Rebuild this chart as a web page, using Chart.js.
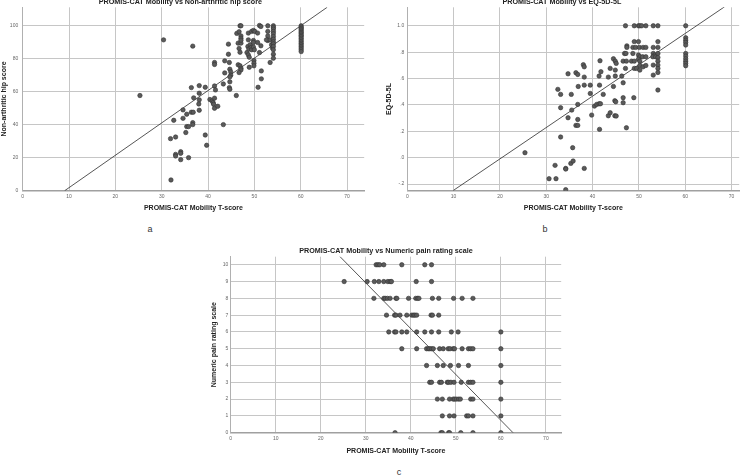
<!DOCTYPE html>
<html lang="en">
<head>
<meta charset="UTF-8" />
<title>PROMIS-CAT Mobility correlations</title>
<script src="https://cdn.jsdelivr.net/npm/chart.js"></script>
<style>
  html, body { margin: 0; padding: 0; background: #fff; width: 753px; height: 475px; overflow: hidden; position: relative; font-family: "Liberation Sans", Arial, sans-serif; }
  .panel { position: absolute; }
  .tag { position: absolute; font-size: 9px; color: #333; transform: translate(-50%, -50%); }
</style>
</head>
<body>

<div class="panel" style="left:-6px;top:-2px;width:373px;height:215px"><canvas id="hipChart"></canvas></div>
<div class="panel" style="left:382px;top:-2px;width:360px;height:215px"><canvas id="eqChart"></canvas></div>
<div class="panel" style="left:208px;top:247px;width:356px;height:208px"><canvas id="painChart"></canvas></div>
<div class="tag" style="left:150px;top:229px">a</div>
<div class="tag" style="left:545px;top:229px">b</div>
<div class="tag" style="left:399px;top:472px">c</div>

<script>
const FONT = '"Liberation Sans", Arial, sans-serif';
const xTicks = [0, 10, 20, 30, 40, 50, 60, 70];

// a: Non-arthritic hip score
const hipTicks = [0, 20, 40, 60, 80, 100];
const hipX = [30.4, 25.3, 36.7, 32.0, 31.9, 33.0, 32.6, 33.0, 33.0, 34.1, 34.1, 34.1, 35.8, 34.6, 34.6, 35.4, 35.2, 35.4, 35.8, 36.4,
  36.8, 36.7, 36.7, 36.4, 36.9, 38.1, 38.1, 38.1, 38.0, 38.1, 39.4, 39.4, 39.7, 40.4, 40.9, 41.1, 41.2, 41.4, 41.4, 41.6,
  41.4, 42.1, 41.4, 41.4, 43.3, 43.3, 43.6, 43.6, 44.4, 44.4, 44.6, 44.7, 44.9, 44.9, 44.7, 44.7, 44.6, 44.7, 46.1, 46.2,
  46.7, 46.9, 47.1, 46.5, 47.1, 46.7, 46.9, 46.5, 46.9, 47.1, 47.1, 46.7, 47.1, 47.1, 47.1, 48.4, 48.7, 48.7, 48.6, 48.8,
  49.1, 49.3, 49.4, 48.7, 48.9, 48.9, 49.4, 49.8, 50.1, 49.8, 49.8, 49.8, 50.0, 49.9, 49.9, 49.9, 50.7, 50.7, 50.8, 51.1,
  51.1, 51.4, 51.4, 51.5, 51.5, 52.9, 52.9, 52.9, 52.9, 52.6, 53.4, 53.4, 53.7, 53.9,
  54.1, 54.1, 54.1, 54.1, 54.1, 54.1, 54.1, 54.1, 54.1, 54.1, 54.1, 54.1, 54.1,
  60.1, 60.1, 60.1, 60.1, 60.1, 60.1, 60.1, 60.1, 60.1, 60.1, 60.1, 60.1, 60.1, 60.1, 60.1, 60.1, 60.1, 60.1];
const hipY = [91.3, 57.6, 87.5, 6.5, 31.5, 32.5, 42.6, 22, 21, 23.6, 22.6, 18.8, 20, 48.9, 43.8, 46.3, 35.2, 38.8, 38.8, 47.5,
  47.5, 41.2, 40, 62.4, 56.2, 63.6, 59, 55, 52.5, 48.7, 62.6, 33.7, 27.5, 55.2, 54.3, 53.3, 52.3, 49.9, 63.4, 61,
  56, 51.1, 77.6, 76.4, 40, 64.6, 71.3, 78.6, 88.7, 82.6, 77.6, 73.5, 71.9, 69.9, 68.9, 65.9, 62.4, 61.4, 57.6, 95.2,
  96.2, 99.8, 99.8, 89.3, 89.3, 86.1, 83.8, 76.2, 75.6, 74.1, 73.1, 71.5, 93.7, 92.3, 91.1, 83.6, 95.4, 91.3, 87.3, 85.7,
  88.3, 86.7, 85.3, 82.2, 80.8, 74.7, 96.4, 97, 96.4, 90.9, 89.7, 86.9, 85.3, 78.8, 77.2, 75.6, 89.7, 95.4, 62.6, 83.6,
  100, 99.4, 87.7, 72.5, 67.7, 99.8, 96.4, 93.7, 90.9, 91.3, 91.3, 77.6, 88.3, 86.3,
  99.8, 98.8, 97.8, 96.4, 95, 93.3, 91.7, 90.1, 88.9, 87.3, 85.3, 82.6, 80.2,
  99.8, 99, 98.2, 97.4, 96.6, 95.8, 95, 94.1, 93.3, 92.3, 91.3, 90.3, 89.3, 88.3, 87.3, 86.3, 85.3, 84.2];
const hipFitX = [9.06, 65.7];
const hipFitY = [0, 111];

// b: EQ-5D-5L
const eqTicks = [-0.2, 0, 0.2, 0.4, 0.6, 0.8, 1.0];
const eqX = [25.4, 30.6, 32.1, 31.9, 33.1, 32.5, 33.1, 33.1, 34.2, 34.2, 34.2, 34.7, 34.7, 35.3, 35.8, 35.7, 35.4, 35.5, 36.4, 36.8,
  36.4, 36.8, 36.8, 36.8, 36.9, 38.2, 38.0, 38.2, 38.2, 38.2, 39.5, 39.5, 39.8, 40.4, 40.9, 41.4, 41.7, 41.5, 41.5, 41.4,
  41.8, 41.6, 42.3, 43.4, 43.4, 43.8, 43.8, 44.5, 44.9, 45.1, 44.5, 44.8, 45.0, 44.8, 45.1, 44.9, 44.9, 46.3, 46.6, 46.6,
  46.6, 46.6, 46.9, 47.2, 47.1, 47.3, 47.1, 47.3, 47.4, 47.4, 48.4, 49.0, 48.7, 49.0, 48.7, 49.3, 50.1, 50.9, 51.5, 49.0,
  49.9, 49.0, 49.5, 48.9, 49.9, 50.2, 50.6, 51.5, 49.9, 50.2, 49.9, 50.2, 50.2, 50.2, 50.8, 51.5, 50.9, 51.5, 53.1, 54.1,
  53.1, 53.1, 53.4, 53.0, 53.6, 53.1, 53.1,
  54.1, 54.1, 54.1, 54.1, 54.1, 54.1, 54.1, 54.1, 54.1,
  60.1, 60.1, 60.1, 60.1, 60.1, 60.1, 60.1, 60.1, 60.1, 60.1, 60.1];
const eqY = [0.038, -0.159, -0.159, -0.058, 0.157, 0.518, 0.48, 0.379, -0.081, -0.086, -0.242, 0.636, 0.303, -0.043, -0.025, 0.076, 0.48, 0.361, 0.644, 0.631,
  0.245, 0.245, 0.29, 0.404, 0.54, -0.081, 0.705, 0.689, 0.611, 0.55, 0.55, 0.487, 0.323, 0.391, 0.404, 0.409, 0.409, 0.215, 0.55, 0.619,
  0.652, 0.735, 0.48, 0.611, 0.318, 0.341, 0.677, 0.75, 0.732, 0.715, 0.54, 0.432, 0.424, 0.318, 0.316, 0.619, 0.664, 0.619, 0.732, 0.568,
  0.455, 0.417, 0.79, 0.79, 1.0, 0.732, 0.677, 0.227, 0.848, 0.836, 0.732, 0.732, 0.79, 1.0, 0.836, 0.836, 0.836, 0.836, 0.836, 0.88,
  0.88, 0.677, 0.677, 0.455, 1.0, 1.0, 1.0, 1.0, 0.778, 0.765, 0.747, 0.732, 0.699, 0.664, 0.765, 0.765, 0.689, 0.699, 1.0, 1.0,
  0.836, 0.79, 0.778, 0.765, 0.765, 0.702, 0.626,
  0.88, 0.836, 0.79, 0.76, 0.732, 0.702, 0.677, 0.646, 0.513,
  1.0, 0.909, 0.891, 0.874, 0.854, 0.79, 0.77, 0.75, 0.732, 0.715, 0.697];
const eqFitX = [9.94, 68.5];
const eqFitY = [-0.248, 1.144];

// c: Numeric pain rating scale
const painTicks = [0, 1, 2, 3, 4, 5, 6, 7, 8, 9, 10];
const painX = [32.3, 32.7, 33.1, 34.0, 38.0, 43.1, 44.6,
  25.2, 30.3, 31.9, 32.9, 34.0, 34.9, 35.4, 35.7, 41.2, 44.6,
  31.8, 34.0, 34.3, 34.8, 35.4, 36.7, 36.9, 39.5, 41.1, 41.5, 41.8, 44.8, 46.2, 49.5, 51.4, 53.8,
  34.6, 36.4, 36.7, 37.6, 39.1, 40.2, 40.6, 40.9, 41.3, 44.5, 44.8, 46.2,
  35.1, 36.4, 36.7, 38.0, 39.1, 41.3, 43.1, 44.6, 46.2, 49.0, 50.5, 60.0,
  38.0, 41.3, 43.5, 43.9, 44.2, 44.6, 45.0, 46.4, 47.2, 48.3, 48.7, 49.4, 49.7, 51.4, 52.8, 53.3, 53.8, 60.0,
  43.5, 45.9, 47.2, 48.8, 50.6, 52.8, 60.0,
  44.2, 44.6, 46.4, 46.8, 48.1, 48.4, 48.9, 49.6, 51.2, 52.8, 53.3, 53.8, 60.0,
  45.9, 47.0, 48.6, 49.4, 49.7, 50.1, 50.6, 51.0, 53.3, 53.8, 60.0,
  47.0, 48.6, 49.6, 52.4, 52.8, 53.8, 60.0,
  36.5, 46.7, 47.0, 48.4, 48.6, 51.1, 53.8, 60.0];
const painY = [10, 10, 10, 10, 10, 10, 10,
  9, 9, 9, 9, 9, 9, 9, 9, 9, 9,
  8, 8, 8, 8, 8, 8, 8, 8, 8, 8, 8, 8, 8, 8, 8, 8,
  7, 7, 7, 7, 7, 7, 7, 7, 7, 7, 7, 7,
  6, 6, 6, 6, 6, 6, 6, 6, 6, 6, 6, 6,
  5, 5, 5, 5, 5, 5, 5, 5, 5, 5, 5, 5, 5, 5, 5, 5, 5, 5,
  4, 4, 4, 4, 4, 4, 4,
  3, 3, 3, 3, 3, 3, 3, 3, 3, 3, 3, 3, 3,
  2, 2, 2, 2, 2, 2, 2, 2, 2, 2, 2,
  1, 1, 1, 1, 1, 1, 1,
  0, 0, 0, 0, 0, 0, 0, 0];
const painFitX = [24.07, 62.7];
const painFitY = [10.54, 0];

const pairs = (xs, ys) => xs.map((x, i) => ({ x: x, y: ys[i] }));

function scatterChart(id, cfg) {
  new Chart(document.getElementById(id), {
    type: 'scatter',
    data: {
      datasets: [
        {
          data: pairs(cfg.xs, cfg.ys),
          backgroundColor: '#5a5a5a',
          borderColor: '#333333',
          borderWidth: 0.6,
          pointRadius: 2.2,
          pointHoverRadius: 2.2
        },
        {
          type: 'line',
          data: pairs(cfg.fitX, cfg.fitY),
          borderColor: '#2b2b2b',
          borderWidth: 0.8,
          pointRadius: 0,
          fill: false
        }
      ]
    },
    options: {
      responsive: true,
      maintainAspectRatio: false,
      animation: false,
      layout: { padding: cfg.pad },
      plugins: {
        legend: { display: false },
        tooltip: { enabled: false },
        title: {
          display: true,
          text: cfg.title,
          color: '#222',
          font: { family: FONT, size: 7.2, weight: 'bold', lineHeight: 1.2 },
          padding: { top: 0, bottom: cfg.titleGap }
        }
      },
      scales: {
        x: {
          type: 'linear',
          min: 0,
          max: cfg.xMax,
          afterBuildTicks: s => { s.ticks = xTicks.map(v => ({ value: v })); },
          afterFit: s => { s.height = cfg.xAxisH; },
          grid: { color: '#c6c6c6', lineWidth: 1, drawTicks: false },
          border: { color: '#a0a0a0', width: 1.5 },
          ticks: { color: '#666', font: { family: FONT, size: 5 }, padding: 3 },
          title: {
            display: true,
            text: 'PROMIS-CAT Mobility T-score',
            color: '#222',
            font: { family: FONT, size: 7, weight: 'bold', lineHeight: 1.2 },
            padding: 0
          }
        },
        y: {
          type: 'linear',
          min: cfg.yMin,
          max: cfg.yMax,
          afterBuildTicks: s => { s.ticks = cfg.yTicks.map(v => ({ value: v })); },
          afterFit: s => { s.width = cfg.yAxisW; },
          grid: { color: '#c6c6c6', lineWidth: 1, drawTicks: false },
          border: { color: '#b0b0b0', width: 1 },
          ticks: { color: '#666', font: { family: FONT, size: 5 }, padding: cfg.yTickPad, callback: cfg.yFormat },
          title: {
            display: true,
            text: cfg.yTitle,
            color: '#222',
            font: { family: FONT, size: 7, weight: 'bold', lineHeight: 1.2 },
            padding: { top: cfg.yTitlePad, bottom: 0 }
          }
        }
      }
    }
  });
}

scatterChart('hipChart', {
  title: 'PROMIS-CAT Mobility vs Non-arthritic hip score',
  yTitle: 'Non-arthritic hip score',
  xs: hipX, ys: hipY, fitX: hipFitX, fitY: hipFitY,
  xMax: 73.7, yMin: 0, yMax: 111, yTicks: hipTicks,
  yFormat: v => String(v),
  pad: { left: 0, right: 0.3, top: 0, bottom: 0.3 },
  titleGap: 0.66, xAxisH: 22, yAxisW: 28.7, yTitlePad: 5.6, yTickPad: 4.5
});

scatterChart('eqChart', {
  title: 'PROMIS-CAT Mobility vs EQ-5D-5L',
  yTitle: 'EQ-5D-5L',
  xs: eqX, ys: eqY, fitX: eqFitX, fitY: eqFitY,
  xMax: 71.65, yMin: -0.25, yMax: 1.14, yTicks: eqTicks,
  yFormat: v => Number(v).toFixed(1).replace(/^(-?)0\./, '$1.'),
  pad: { left: 0, right: 0.3, top: 0, bottom: 0.3 },
  titleGap: 0.66, xAxisH: 22, yAxisW: 25.3, yTitlePad: 2.5, yTickPad: 3
});

scatterChart('painChart', {
  title: 'PROMIS-CAT Mobility vs Numeric pain rating scale',
  yTitle: 'Numeric pain rating scale',
  xs: painX, ys: painY, fitX: painFitX, fitY: painFitY,
  xMax: 73.4, yMin: 0, yMax: 10.48, yTicks: painTicks,
  yFormat: v => String(v),
  pad: { left: 0, right: 0, top: 0, bottom: 0.1 },
  titleGap: 1.06, xAxisH: 22.2, yAxisW: 22.7, yTitlePad: 2, yTickPad: 2.4
});
</script>
</body>
</html>
